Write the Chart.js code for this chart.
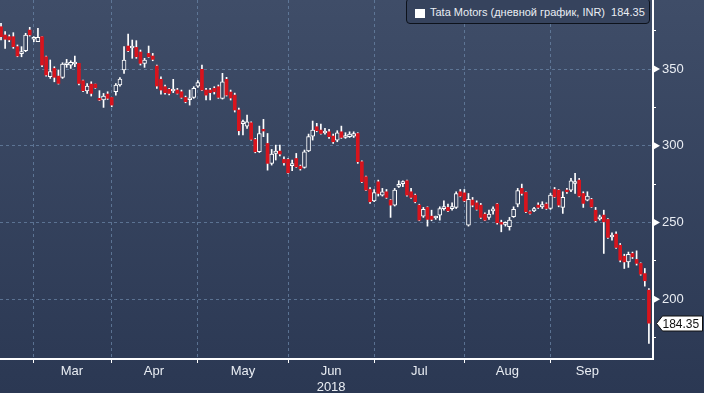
<!DOCTYPE html>
<html>
<head>
<meta charset="utf-8">
<script src="https://cdn.jsdelivr.net/npm/chart.js@4.4.0/dist/chart.umd.min.js"></script>
<style>
  html, body { margin: 0; padding: 0; }
  body {
    width: 704px; height: 393px; position: relative; overflow: hidden;
    background: linear-gradient(#3f4d68, #2b3853);
    font-family: "Liberation Sans", sans-serif;
  }
  #priceChart { position: absolute; left: 0; top: 0; }
  #legend {
    position: absolute; left: 406px; top: -2px; width: 244px; height: 26px;
    border: 1px solid #0d121b; border-radius: 4px; background: #36435d;
    color: #e9edf3; font-size: 11px; line-height: 26px; padding-left: 23px;
    box-sizing: border-box; white-space: nowrap;
  }
  #legend .sq {
    position: absolute; left: 8px; top: 10px; width: 10px; height: 9px; background: #fff;
  }
</style>
</head>
<body>
<canvas id="priceChart" width="704" height="393"></canvas>
<div id="legend"><span class="sq"></span>Tata Motors (дневной график, INR)&nbsp; 184.35</div>
<script>
// Tata Motors daily candles, Feb 19 - Oct 5 2018
const OPEN = [
  377.6, 372.2, 371.1, 371.1, 364.6, 360.0, 362.0, 375.4, 369.4, 367.8,
  371.1, 358.0, 345.0, 350.4, 345.4, 344.6, 352.8, 352.6, 353.3, 353.7,
  342.4, 335.7, 340.2, 340.2, 330.9, 329.8, 333.7, 331.5, 335.2, 339.6,
  349.4, 365.0, 363.7, 364.1, 361.1, 353.7, 360.2, 358.5, 352.0, 343.3,
  338.5, 336.8, 335.7, 336.3, 335.2, 331.5, 330.0, 331.5, 338.9, 349.8,
  336.3, 336.3, 337.4, 338.5, 330.9, 343.3, 335.0, 333.0, 323.3, 314.4,
  312.8, 315.0, 304.1, 296.1, 310.7, 301.5, 288.5, 295.0, 296.5, 291.1,
  291.1, 287.0, 291.7, 286.7, 285.9, 296.7, 306.3, 312.4, 310.2, 308.3,
  309.1, 306.3, 303.7, 309.1, 305.4, 305.9, 306.3, 308.0, 289.6, 279.8,
  271.5, 264.1, 276.5, 267.8, 270.0, 264.6, 261.3, 273.5, 275.3, 277.2,
  270.0, 267.8, 261.3, 254.1, 259.8, 254.1, 252.9, 254.8, 259.0, 259.8,
  259.0, 259.8, 270.0, 269.3, 248.3, 264.6, 262.8, 261.3, 255.4, 253.3,
  257.5, 262.0, 250.0, 248.8, 247.2, 253.7, 262.0, 272.2, 269.6, 257.0,
  257.6, 261.3, 260.2, 262.0, 259.1, 271.5, 271.1, 259.8, 271.1, 271.1,
  275.4, 277.6, 268.9, 264.6, 265.0, 258.0, 252.3, 254.8, 252.0, 240.5,
  242.4, 235.2, 228.0, 224.3, 229.8, 225.9, 223.3, 216.7, 205.9
];
const HIGH = [
  379.8, 374.4, 372.2, 373.7, 365.7, 364.6, 373.3, 377.2, 371.1, 376.5,
  371.1, 358.5, 355.9, 351.5, 349.4, 354.1, 356.3, 355.4, 358.5, 353.7,
  342.8, 340.6, 341.7, 340.2, 335.9, 334.1, 335.2, 331.5, 340.6, 344.4,
  364.6, 372.8, 368.9, 368.5, 362.4, 357.0, 365.0, 360.2, 352.6, 345.0,
  339.6, 337.4, 343.3, 337.4, 336.3, 332.4, 336.3, 338.5, 342.4, 352.6,
  337.4, 337.4, 338.5, 339.6, 347.2, 344.6, 336.3, 334.3, 324.6, 316.7,
  320.0, 315.6, 304.8, 312.8, 317.2, 308.0, 297.6, 300.4, 300.4, 292.8,
  291.7, 290.7, 295.0, 287.4, 297.2, 307.6, 316.1, 314.6, 314.1, 311.3,
  310.7, 307.6, 309.8, 312.8, 308.5, 309.1, 309.1, 308.5, 290.2, 280.2,
  272.8, 271.5, 277.6, 272.2, 271.5, 265.0, 272.2, 277.2, 277.2, 277.6,
  272.2, 268.5, 261.9, 259.8, 260.2, 258.0, 254.1, 260.2, 264.1, 261.9,
  262.8, 270.0, 271.5, 271.5, 268.9, 266.3, 264.1, 262.4, 256.3, 258.0,
  260.2, 262.4, 251.5, 250.4, 253.3, 260.2, 272.2, 275.0, 270.0, 257.6,
  259.8, 262.8, 263.5, 262.8, 268.9, 272.8, 271.5, 270.0, 272.2, 278.7,
  282.0, 278.7, 270.0, 270.0, 265.7, 259.8, 254.8, 258.0, 252.6, 243.3,
  243.9, 236.3, 229.3, 230.7, 230.7, 231.5, 223.7, 220.0, 206.9
];
const LOW = [
  368.9, 363.5, 367.8, 363.5, 358.0, 358.0, 361.3, 371.5, 367.8, 367.8,
  351.5, 345.4, 343.9, 341.7, 340.2, 343.9, 351.1, 350.4, 351.5, 339.6,
  335.2, 334.1, 332.4, 337.4, 329.4, 325.0, 330.2, 325.4, 333.0, 338.9,
  347.2, 361.3, 357.0, 357.0, 352.6, 351.1, 357.6, 355.4, 337.4, 333.7,
  333.7, 333.1, 334.6, 333.7, 330.9, 328.0, 326.5, 330.9, 338.0, 335.9,
  329.8, 329.8, 333.7, 330.9, 330.4, 332.4, 329.8, 322.0, 307.0, 307.0,
  311.3, 303.7, 295.4, 295.6, 305.9, 284.1, 287.4, 290.7, 293.3, 287.4,
  281.9, 283.7, 285.9, 284.1, 285.4, 296.1, 303.7, 309.1, 307.6, 307.6,
  304.8, 301.5, 302.6, 304.8, 304.8, 305.4, 305.4, 288.5, 275.9, 270.7,
  262.4, 263.5, 267.2, 267.2, 265.7, 253.3, 260.7, 272.8, 273.3, 267.2,
  265.7, 262.8, 251.1, 253.3, 247.6, 251.1, 252.0, 251.5, 258.0, 257.0,
  258.0, 259.1, 266.7, 263.5, 247.6, 260.2, 258.0, 252.6, 251.1, 252.0,
  255.4, 248.9, 243.9, 247.6, 245.0, 253.3, 260.2, 267.8, 256.3, 255.4,
  257.0, 259.1, 259.1, 258.5, 258.5, 266.3, 260.2, 255.9, 268.9, 270.0,
  268.9, 266.7, 259.8, 264.1, 259.8, 250.4, 251.5, 229.8, 239.6, 238.5,
  233.0, 224.3, 220.0, 220.7, 226.5, 222.2, 215.6, 208.5, 171.1
];
const CLOSE = [
  371.1, 369.4, 369.0, 364.6, 358.5, 360.5, 372.2, 372.2, 369.8, 370.7,
  352.6, 346.1, 348.3, 344.6, 340.6, 353.3, 353.1, 354.4, 354.1, 340.6,
  335.9, 338.9, 334.1, 337.8, 329.8, 332.4, 330.9, 326.5, 339.6, 343.5,
  355.9, 361.9, 364.0, 358.0, 353.7, 355.9, 358.0, 356.3, 338.9, 336.3,
  334.6, 334.1, 336.0, 334.1, 331.5, 328.7, 330.4, 337.4, 341.1, 336.3,
  333.0, 334.6, 335.2, 331.5, 341.7, 333.0, 331.1, 323.3, 309.8, 314.7,
  315.6, 304.1, 296.1, 308.0, 309.6, 288.5, 294.6, 296.5, 294.6, 288.9,
  282.4, 287.4, 286.3, 285.0, 296.1, 305.9, 310.2, 309.8, 308.0, 308.7,
  305.9, 302.6, 308.5, 305.4, 305.7, 307.6, 308.0, 289.6, 276.5, 271.1,
  263.5, 269.4, 268.9, 270.0, 266.3, 261.3, 271.1, 273.7, 275.6, 267.8,
  266.3, 263.5, 251.5, 258.5, 252.0, 252.0, 253.2, 259.1, 259.4, 257.6,
  259.3, 268.9, 267.2, 264.1, 265.0, 261.3, 258.5, 253.3, 251.5, 255.4,
  257.8, 249.8, 248.9, 249.1, 251.5, 258.5, 270.7, 268.9, 257.0, 255.9,
  259.1, 259.8, 261.7, 259.1, 267.8, 266.7, 261.3, 266.3, 270.0, 277.2,
  276.5, 267.2, 262.4, 267.2, 260.2, 251.1, 252.6, 250.4, 240.2, 240.8,
  233.7, 225.4, 224.3, 229.3, 227.6, 223.3, 216.3, 212.0, 184.35
];

// x axis: trading-day index; month boundaries and label positions
const MONTHS = ['Mar', 'Apr', 'May', 'Jun', 'Jul', 'Aug', 'Sep'];
const MONTH_EDGES = [8, 27, 48, 70, 91, 113, 134];
const MONTH_MID = [17.3, 37.3, 59, 80.5, 102, 123.5, 143];
const YEAR = '2018';
const Y_TICKS = [175, 200, 225, 250, 275, 300, 325, 350, 375];

const RED = '#d8141d';
const GRID = 'rgba(105,132,165,0.75)';
const FONT = { family: '"Liberation Sans", sans-serif', size: 13 };

const idx = OPEN.map((_, i) => i);
const isUp = i => CLOSE[i] >= OPEN[i];

// right-axis triangles and the last price tag
const axisMarks = {
  id: 'axisMarks',
  afterDraw(chart) {
    const { ctx, chartArea, scales: { y } } = chart;
    const r = chartArea.right;
    ctx.save();
    ctx.fillStyle = '#fff';
    Y_TICKS.filter(v => v % 50 === 0).forEach(v => {
      const py = y.getPixelForValue(v);
      ctx.beginPath();
      ctx.moveTo(r, py - 4);
      ctx.lineTo(r + 7, py);
      ctx.lineTo(r, py + 4);
      ctx.closePath();
      ctx.fill();
    });
    const last = CLOSE[CLOSE.length - 1];
    const py = Math.round(y.getPixelForValue(last)) + 0.5;
    const x0 = r + 3.5;
    ctx.beginPath();
    ctx.moveTo(x0, py);
    ctx.lineTo(x0 + 6, py - 7.5);
    ctx.lineTo(702.5, py - 7.5);
    ctx.lineTo(702.5, py + 7.5);
    ctx.lineTo(x0 + 6, py + 7.5);
    ctx.closePath();
    ctx.fillStyle = '#fff';
    ctx.fill();
    ctx.strokeStyle = '#111';
    ctx.lineWidth = 1;
    ctx.stroke();
    ctx.fillStyle = '#111';
    ctx.font = '12px "Liberation Sans"';
    ctx.textBaseline = 'middle';
    ctx.fillText(last.toFixed(2), x0 + 6, py + 1);
    ctx.restore();
  }
};

const noPad = s => {
  s.paddingTop = 0;
  s.paddingBottom = 0;
  s.paddingLeft = 0;
  s.paddingRight = 0;
};

const ctx = document.getElementById('priceChart').getContext('2d');
const priceChart = new Chart(ctx, {
  type: 'bar',
  data: {
    datasets: [
      {
        label: 'wick',
        data: idx.map(i => ({ x: i, y: [LOW[i], HIGH[i]] })),
        backgroundColor: '#ffffff',
        barThickness: 1,
        grouped: false,
        order: 2
      },
      {
        label: 'down',
        data: idx.filter(i => !isUp(i)).map(i => ({ x: i, y: [CLOSE[i], OPEN[i]] })),
        backgroundColor: RED,
        barThickness: 3,
        minBarLength: 1,
        grouped: false,
        order: 0
      },
      {
        label: 'up',
        data: idx.filter(isUp).map(i => ({ x: i, y: [OPEN[i], CLOSE[i]] })),
        backgroundColor: '#37445f',
        borderColor: '#ffffff',
        borderWidth: 1,
        borderSkipped: false,
        barThickness: 4,
        minBarLength: 2,
        grouped: false,
        order: 0
      }
    ]
  },
  options: {
    responsive: false,
    animation: false,
    layout: { padding: 0 },
    plugins: {
      legend: { display: false },
      tooltip: { enabled: false }
    },
    scales: {
      x: {
        type: 'linear',
        position: 'bottom',
        offset: false,
        min: -0.25,
        max: 159,
        afterBuildTicks: axis => {
          axis.ticks = MONTH_EDGES.concat(MONTH_MID).sort((a, b) => a - b).map(v => ({ value: v }));
        },
        afterFit: s => { s.height = 34; noPad(s); },
        ticks: {
          autoSkip: false,
          maxRotation: 0,
          color: '#e9edf3',
          font: FONT,
          padding: 1,
          callback: value => {
            const k = MONTH_MID.indexOf(value);
            if (k < 0) return '';
            return MONTHS[k] === 'Jun' ? [MONTHS[k], YEAR] : MONTHS[k];
          }
        },
        grid: {
          offset: false,
          color: c => (c.tick && MONTH_EDGES.includes(c.tick.value)) ? GRID : 'transparent',
          tickColor: c => (c.tick && MONTH_EDGES.includes(c.tick.value)) ? '#ffffff' : 'transparent',
          tickLength: 4,
          tickBorderDash: []
        },
        border: { color: '#ffffff', width: 2, dash: [3, 3] }
      },
      y: {
        position: 'right',
        min: 161,
        max: 395,
        afterBuildTicks: axis => { axis.ticks = Y_TICKS.map(v => ({ value: v })); },
        afterFit: s => { s.width = 51; noPad(s); },
        ticks: {
          color: '#e9edf3',
          font: FONT,
          padding: 6,
          callback: v => (v % 50 === 0 ? String(v) : '')
        },
        grid: {
          color: c => (c.tick && c.tick.value % 50 === 0) ? GRID : 'transparent',
          tickColor: c => (c.tick && c.tick.value % 50 !== 0) ? '#ffffff' : 'transparent',
          tickLength: 3,
          tickBorderDash: []
        },
        border: { color: '#ffffff', width: 2, dash: [3, 3] }
      }
    }
  },
  plugins: [axisMarks]
});
</script>
</body>
</html>
